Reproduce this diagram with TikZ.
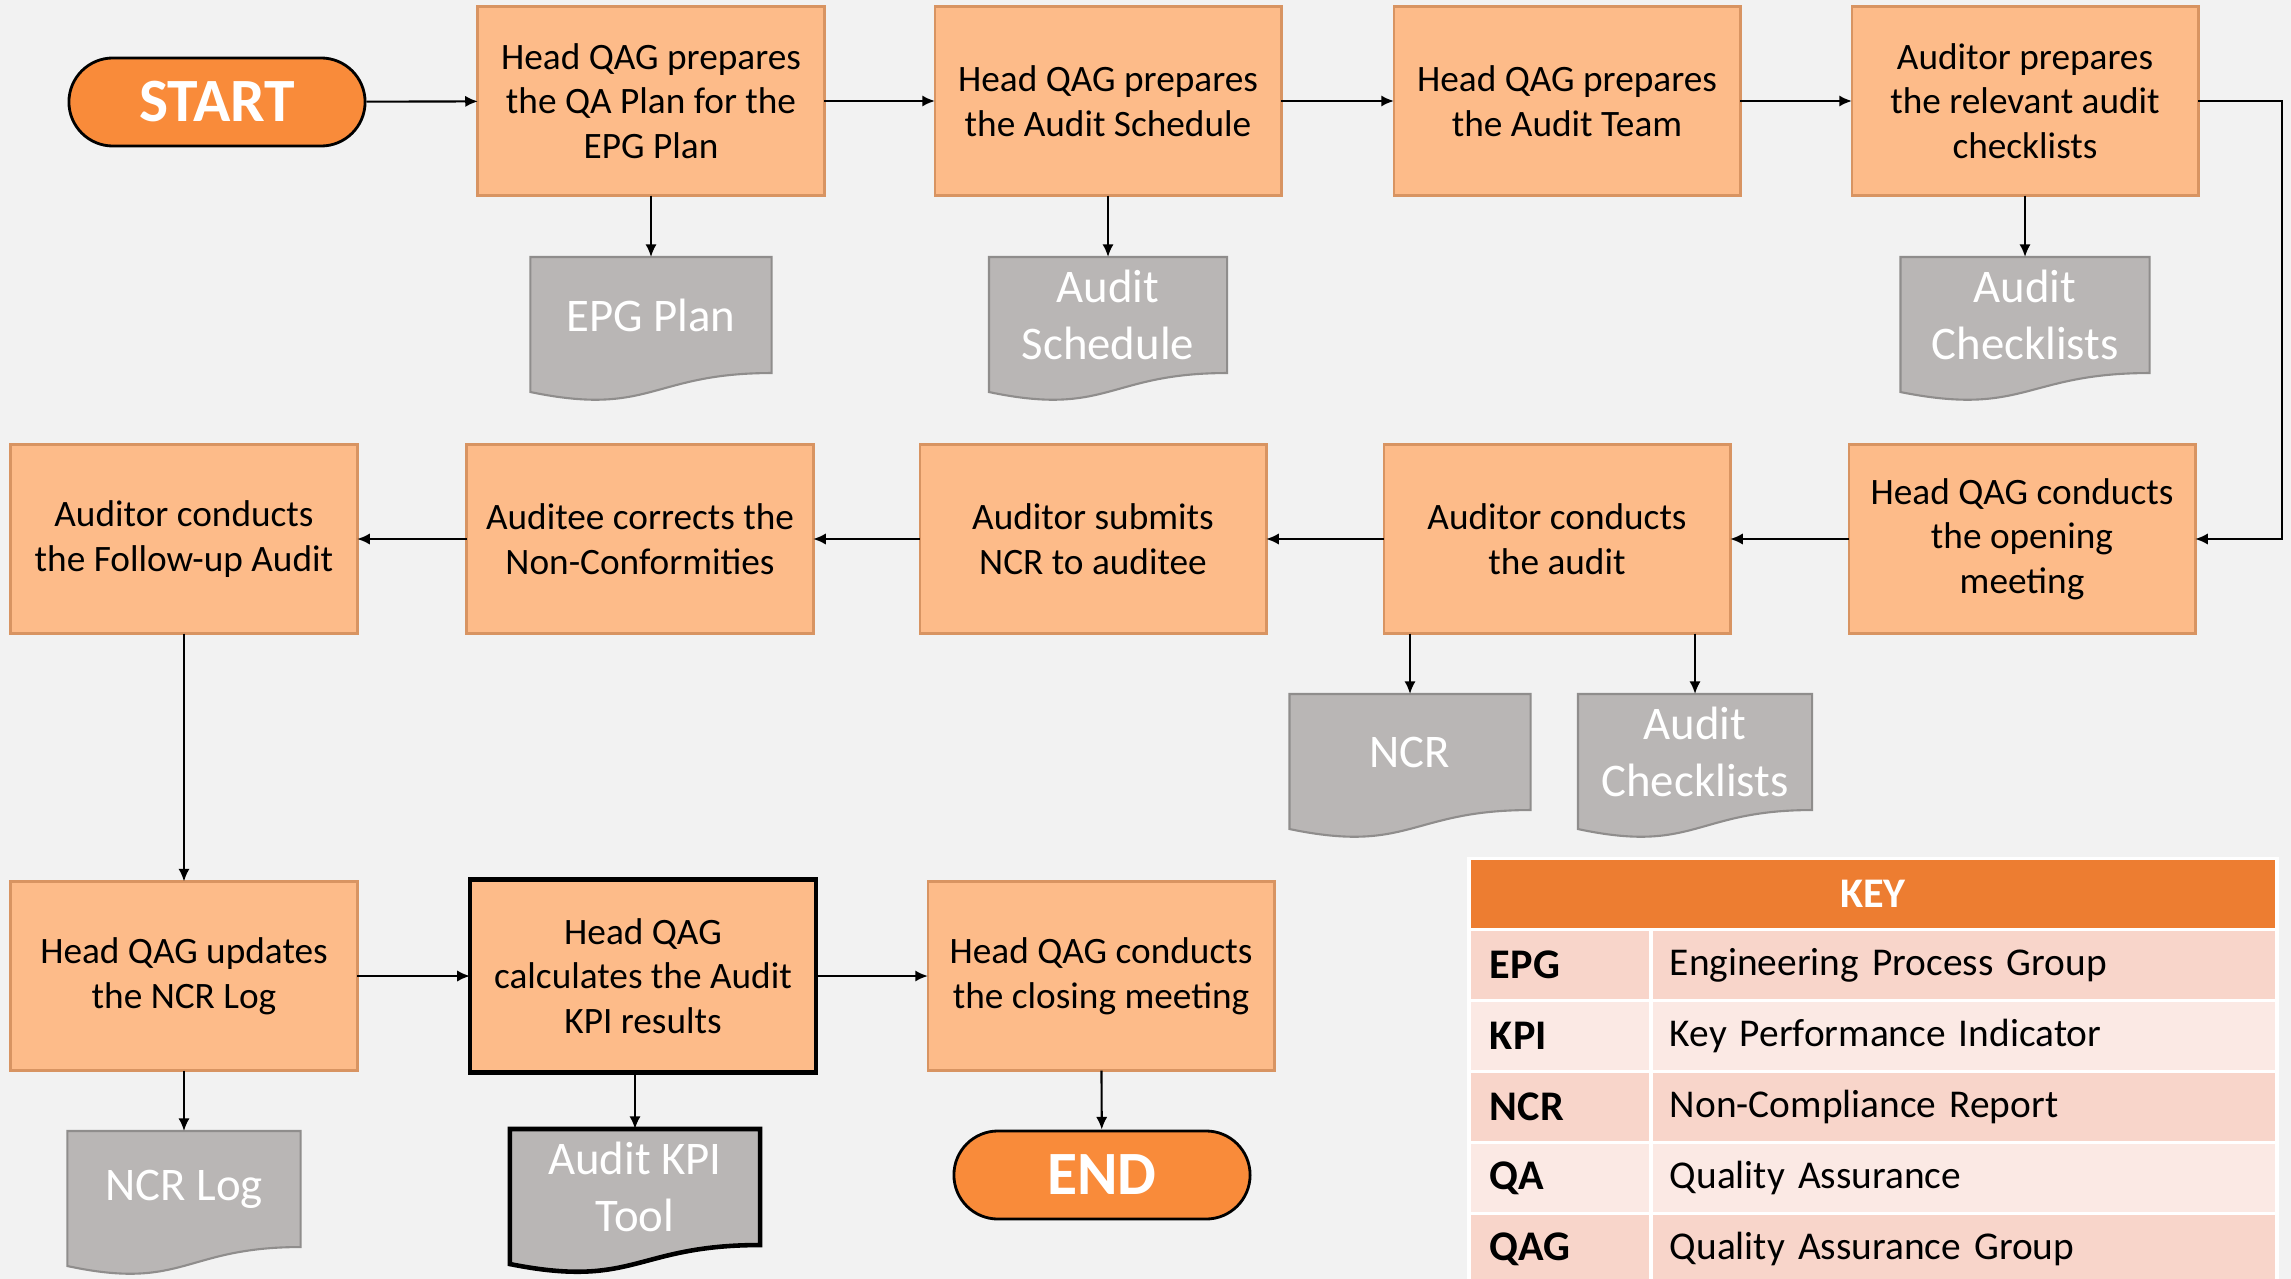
\documentclass[tikz,border=0pt]{standalone}
\usepackage{fontspec}
\setmainfont{Carlito}
\usetikzlibrary{shapes.geometric, arrows, arrows.meta, calc}
\definecolor{pagebg}{HTML}{F2F2F2}
\definecolor{peach}{HTML}{FDBB89}
\definecolor{peachedge}{HTML}{D89462}
\definecolor{termorange}{HTML}{F98B3A}
\definecolor{docgray}{HTML}{B9B6B5}
\definecolor{docedge}{HTML}{8F8D8C}
\definecolor{keyorange}{HTML}{ED7D31}
\definecolor{keydark}{HTML}{F8D5CA}
\definecolor{keylight}{HTML}{FBE9E4}
\tikzstyle{startstop} = [
	rectangle,
	rounded corners=0.44cm,
	minimum width=2.96cm,
	minimum height=0.88cm,
	text centered,
	draw=black,
	line width=0.8pt,
	fill=termorange,
	text=white,
	font=\fontsize{17.5}{20}\selectfont\bfseries
]
\tikzstyle{process} = [
	rectangle,
	minimum width=3.46cm,
	minimum height=1.89cm,
	align=center,
	draw=peachedge,
	line width=0.8pt,
	fill=peach,
	outer sep=0pt,
	font=\fontsize{10.6}{12.7}\selectfont
]
\tikzstyle{doc} = [
	rectangle,
	minimum height=1.16cm,
	align=center,
	fill=docgray,
	text=white,
	inner sep=0pt,
	outer sep=0pt,
	font=\fontsize{13.3}{16.2}\selectfont
]
\tikzstyle{keyhead} = [
	rectangle,
	minimum width=8.04cm,
	minimum height=0.67cm,
	fill=keyorange,
	text=white,
	outer sep=0pt,
	font=\fontsize{12}{14}\selectfont\bfseries
]
\tikzstyle{keyabbr} = [
	rectangle,
	minimum height=0.68cm,
	inner xsep=0.19cm,
	text width=1.40cm,
	align=left,
	outer sep=0pt,
	font=\fontsize{12}{14}\selectfont\bfseries
]
\tikzstyle{keytext} = [
	rectangle,
	minimum height=0.68cm,
	inner xsep=0.17cm,
	text width=5.88cm,
	align=left,
	outer sep=0pt,
	font=\fontsize{11.2}{13.4}\selectfont
]
\tikzstyle{arrow} = [semithick, ->, >={Latex[length=3.6pt, width=3.2pt]}]

% wavy bottom of a document node
\newcommand{\docbottom}[2][draw=docedge, line width=0.6pt]{%
  \fill[docgray] (#2.south west) -- ($(#2.south west)+(0,0.03cm)$) -- ($(#2.south east)+(0,0.03cm)$) -- (#2.south east)
    .. controls (#2.south) and ($(#2.south)+(0,-0.44cm)$) .. ($(#2.south west)+(0,-0.19cm)$) -- cycle;
  \draw[#1] (#2.north west) -- (#2.north east) -- (#2.south east)
    .. controls (#2.south) and ($(#2.south)+(0,-0.44cm)$) .. ($(#2.south west)+(0,-0.19cm)$) -- cycle;
}

\begin{document}
\begin{tikzpicture}[x=0.01cm, y=-0.01cm]
        \fill[pagebg] (0,0) rectangle (2291,1279);
        \useasboundingbox (0,0) rectangle (2291,1279);
        % top row
        \node (start) [startstop] at (217,102) {START};
        \node (prep1) [process] at (651,101) {Head QAG prepares\\the QA Plan for the\\EPG Plan};
        \node (prep2) [process] at (1108,101) {Head QAG prepares\\the Audit Schedule};
        \node (prep3) [process] at (1567,101) {Head QAG prepares\\the Audit Team};
        \node (prep4) [process] at (2025,101) {Auditor prepares\\the relevant audit\\checklists};
        \node (epgplan) [doc, minimum width=2.41cm] at (651,315) {EPG Plan};
        \node (schedule) [doc, minimum width=2.38cm] at (1108,315) {Audit\\Schedule};
        \node (checks1) [doc, minimum width=2.49cm] at (2025,315) {Audit\\Checklists};
        % middle row
        \node (opening) [process] at (2022,539) {Head QAG conducts\\the opening\\meeting};
        \node (conduct) [process] at (1557,539) {Auditor conducts\\the audit};
        \node (submit) [process] at (1093,539) {Auditor submits\\NCR to auditee};
        \node (correct) [process] at (640,539) {Auditee corrects the\\Non-Conformities};
        \node (followup) [process] at (184,539) {Auditor conducts\\the Follow-up Audit};
        \node (ncr) [doc, minimum width=2.41cm] at (1410,752) {NCR};
        \node (checks2) [doc, minimum width=2.34cm] at (1695,752) {Audit\\Checklists};
        % bottom row
        \node (update) [process] at (184,976) {Head QAG updates\\the NCR Log};
        \node (calc) [process, draw=black, line width=1.3pt, minimum height=1.93cm] at (643,976) {Head QAG\\calculates the Audit\\KPI results};
        \node (closing) [process] at (1101,976) {Head QAG conducts\\the closing meeting};
        \node (ncrlog) [doc, minimum width=2.33cm] at (184,1189) {NCR Log};
        \node (kpitool) [doc, minimum width=2.50cm] at (635,1187) {Audit KPI\\Tool};
        \node (end) [startstop] at (1102,1175) {END};

        \docbottom{epgplan}
        \docbottom{schedule}
        \docbottom{checks1}
        \docbottom{ncr}
        \docbottom{checks2}
        \docbottom{ncrlog}
        \docbottom[draw=black, line width=1.3pt]{kpitool}

        \coordinate (turn) at (2282,101);
        \draw [arrow] (start) -- (prep1);
        \draw [arrow] (prep1) -- (prep2);
        \draw [arrow] (prep2) -- (prep3);
        \draw [arrow] (prep3) -- (prep4);
        \draw [arrow] (prep1) -- (epgplan);
        \draw [arrow] (prep2) -- (schedule);
        \draw [arrow] (prep4) -- (checks1);
        \draw [arrow] (prep4.east) -- (turn) |- (opening.east);
        \draw [arrow] (opening) -- (conduct);
        \draw [arrow] (conduct) -- (submit);
        \draw [arrow] (submit) -- (correct);
        \draw [arrow] (correct) -- (followup);
        \draw [arrow] (conduct.south -| ncr.north) -- (ncr.north);
        \draw [arrow] (conduct.south -| checks2.north) -- (checks2.north);
        \draw [arrow] (followup) -- (update);
        \draw [arrow] (update) -- (calc);
        \draw [arrow] (calc) -- (closing);
        \draw [arrow] (update) -- (ncrlog);
        \draw [arrow] (calc.south -| kpitool.north) -- (kpitool.north);
        \draw [arrow] (closing) -- (end);

        % key table
        \fill[white] (1467,857) rectangle (2279,1290);
        \node (keytitle) [keyhead] at (1873,894) {KEY};
        \node (epgabbr) [keyabbr, fill=keydark] at (1560,965) {EPG};
        \node (epgdef) [keytext, fill=keydark] at (1964,965) {Engineering Process Group};
        \node (kpiabbr) [keyabbr, fill=keylight] at (1560,1036) {KPI};
        \node (kpidef) [keytext, fill=keylight] at (1964,1036) {Key Performance Indicator};
        \node (ncrabbr) [keyabbr, fill=keydark] at (1560,1107) {NCR};
        \node (ncrdef) [keytext, fill=keydark] at (1964,1107) {Non-Compliance Report};
        \node (qaabbr) [keyabbr, fill=keylight] at (1560,1178) {QA};
        \node (qadef) [keytext, fill=keylight] at (1964,1178) {Quality Assurance};
        \node (qagabbr) [keyabbr, fill=keydark] at (1560,1249) {QAG};
        \node (qagdef) [keytext, fill=keydark] at (1964,1249) {Quality Assurance Group};
      \end{tikzpicture}
\end{document}
